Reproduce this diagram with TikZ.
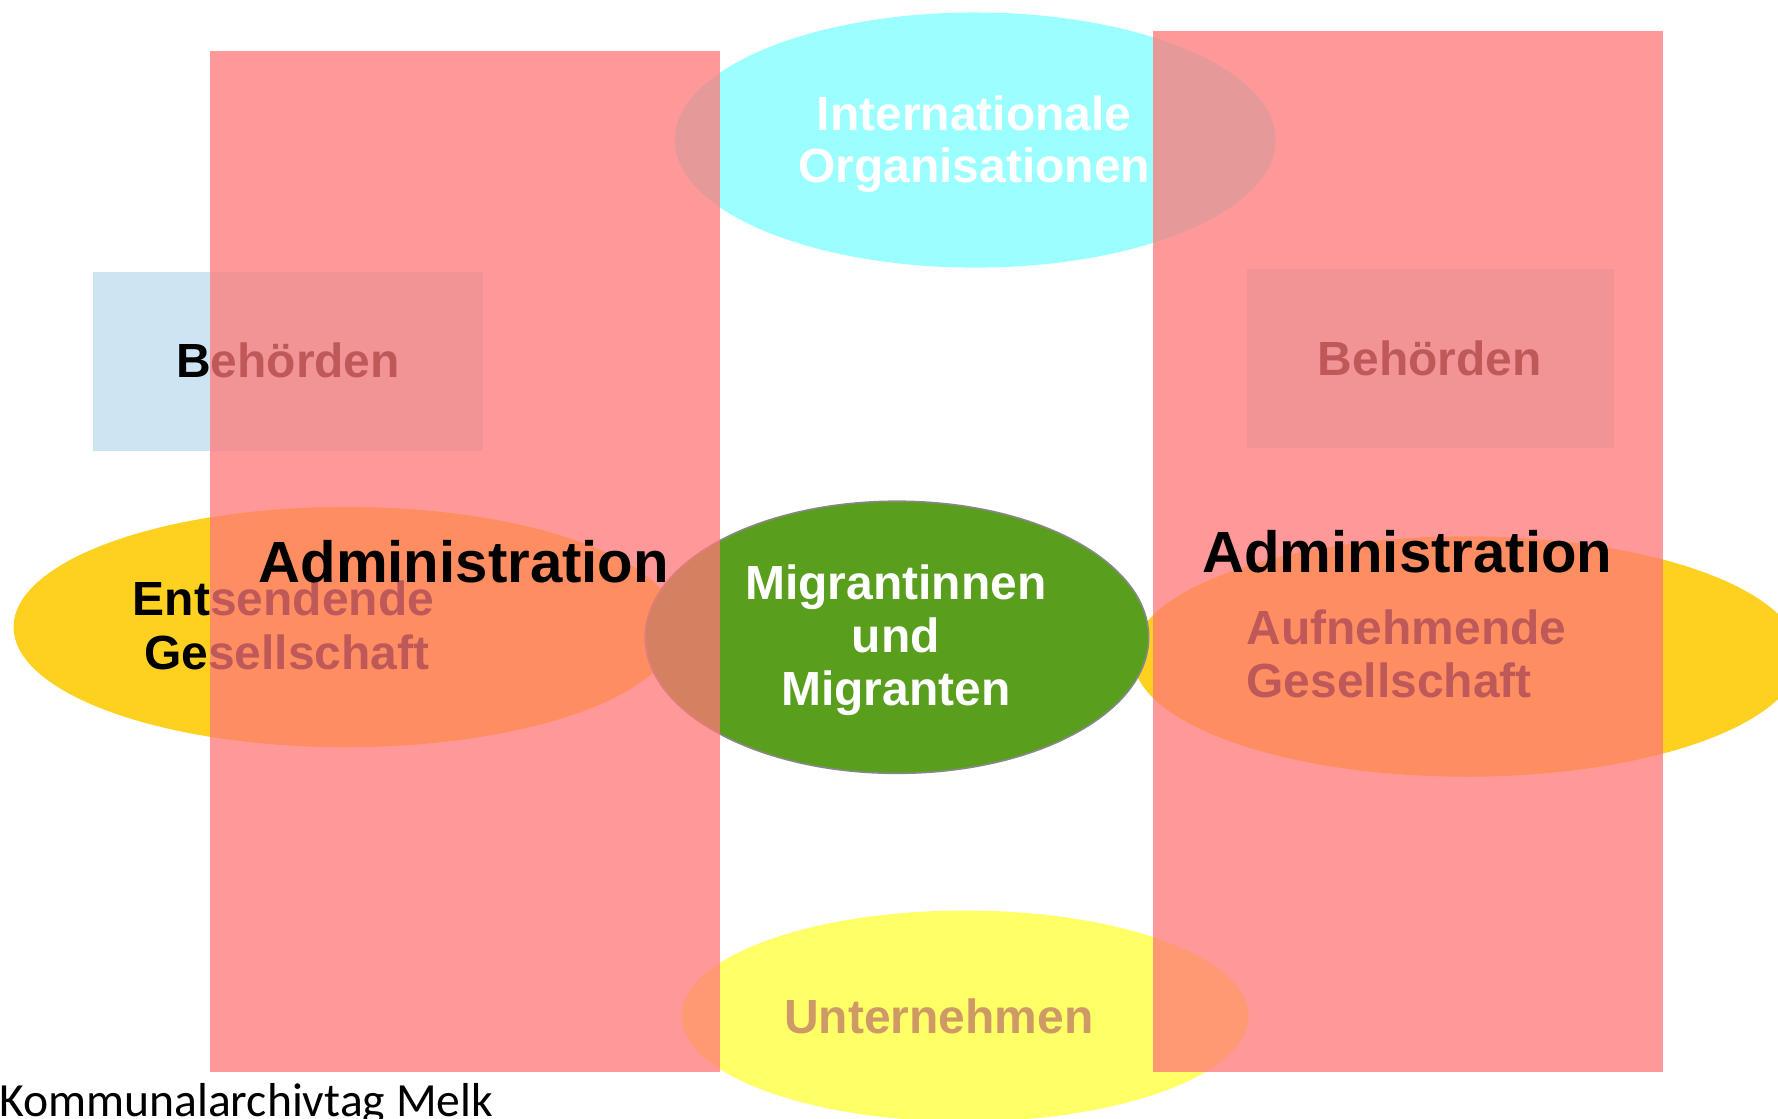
\documentclass[tikz,border=0pt]{standalone}
\usepackage{fontspec}
\setmainfont{Liberation Sans}
\newfontfamily\calib{Carlito}
\definecolor{redfill}{RGB}{255,120,120}
\definecolor{cyanfill}{RGB}{156,255,255}
\definecolor{bluefill}{RGB}{207,228,243}
\definecolor{yellowfill}{RGB}{254,209,32}
\definecolor{greenfill}{RGB}{90,158,30}
\definecolor{lightyellow}{RGB}{255,255,102}
\definecolor{tantext}{RGB}{205,153,102}
\definecolor{outlinegray}{RGB}{136,136,136}
\begin{document}
\begin{tikzpicture}[x=0.5pt,y=-0.5pt,
  lbl/.style={font=\fontsize{21.15}{23}\selectfont\bfseries, inner sep=0pt, anchor=base},
  lblw/.style={lbl, anchor=base west},
  adm/.style={font=\fontsize{25.65}{28}\selectfont\bfseries, inner sep=0pt, anchor=base},
  redbar/.style={fill=redfill, fill opacity=0.75},
  boxfill/.style={fill=bluefill},
  blob/.style={fill=yellowfill}]
\useasboundingbox (0,0) rectangle (1568,986);
\clip (0,0) rectangle (1568,986);
\fill[white] (0,0) rectangle (1568,986);

% lower layer
\fill[cyanfill] (860,123.5) ellipse [x radius=265, y radius=112.5];
\fill[lightyellow] (851,896) ellipse [x radius=250, y radius=93];
\fill[boxfill] (82,240) rectangle (426,398);
\fill[boxfill] (1100,237) rectangle (1423,395);
\fill[blob] (305,553) ellipse [x radius=293, y radius=106];
\fill[blob] (1293,579) ellipse [x radius=294, y radius=106];
\filldraw[fill=greenfill, draw=outlinegray, line width=0.7pt] (791,562) ellipse [x radius=222, y radius=120];

% texts below the red bars
\node[lbl] (behL) at (254,333) {Behörden};
\node[lbl] (behR) at (1261,331) {Behörden};
\node[lbl] (entA) at (250,543) {Entsendende};
\node[lbl] (entB) at (253,590) {Gesellschaft};
\node[lblw] (aufA) at (1099,568) {Aufnehmende};
\node[lblw] (aufB) at (1099,615) {Gesellschaft};

% red bars
\fill[redbar] (185,45) rectangle (635,945);
\fill[redbar] (1017,27) rectangle (1467,945);

% texts on top
\node[lbl, text=white] (intA) at (859,115) {Internationale};
\node[lbl, text=white] (intB) at (859,161) {Organisationen};
\node[adm] (admL) at (409,514) {Administration};
\node[adm] (admR) at (1241,505) {Administration};
\node[lbl, text=white] (migA) at (790,529) {Migrantinnen};
\node[lbl, text=white] (migB) at (790,575) {und};
\node[lbl, text=white] (migC) at (790,622) {Migranten};
\node[lbl, text=tantext] (unt) at (828,911) {Unternehmen};
\node[font=\calib\fontsize{21}{24}\selectfont, inner sep=0pt, anchor=base west] (foot) at (-1,985) {Kommunalarchivtag Melk};
\end{tikzpicture}
\end{document}
